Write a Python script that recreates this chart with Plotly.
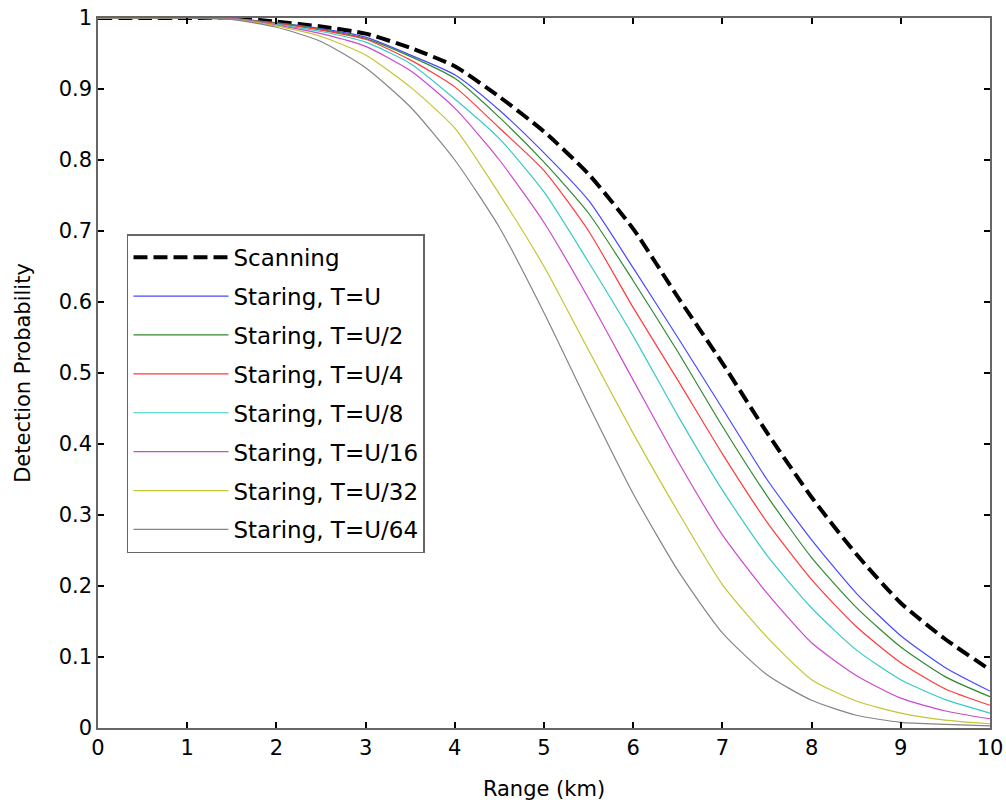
import plotly.graph_objects as go

range_km = [0, 0.5, 1, 1.5, 2, 2.5, 3, 3.5, 4, 4.5, 5, 5.5, 6, 6.5, 7, 7.5, 8, 8.5, 9, 9.5, 10]

scanning = [1.0, 1.0, 1.0, 1.0, 0.995, 0.988, 0.978, 0.958, 0.932, 0.889, 0.84, 0.78, 0.703, 0.607, 0.514, 0.416, 0.325, 0.245, 0.176, 0.125, 0.082]
staring_u = [1.0, 1.0, 1.0, 0.999, 0.993, 0.985, 0.973, 0.948, 0.92, 0.87, 0.81, 0.743, 0.648, 0.55, 0.45, 0.35, 0.265, 0.19, 0.13, 0.085, 0.052]
staring_u2 = [1.0, 1.0, 1.0, 0.999, 0.993, 0.984, 0.971, 0.946, 0.915, 0.86, 0.797, 0.725, 0.63, 0.53, 0.425, 0.327, 0.24, 0.17, 0.114, 0.072, 0.044]
staring_u4 = [1.0, 1.0, 1.0, 0.999, 0.992, 0.983, 0.97, 0.941, 0.903, 0.845, 0.785, 0.70, 0.592, 0.49, 0.386, 0.29, 0.209, 0.143, 0.092, 0.055, 0.032]
staring_u8 = [1.0, 1.0, 1.0, 0.999, 0.991, 0.981, 0.966, 0.936, 0.886, 0.83, 0.755, 0.656, 0.552, 0.44, 0.335, 0.243, 0.169, 0.11, 0.068, 0.04, 0.021]
staring_u16 = [1.0, 1.0, 1.0, 0.999, 0.99, 0.978, 0.96, 0.926, 0.873, 0.8, 0.712, 0.605, 0.49, 0.376, 0.272, 0.19, 0.12, 0.074, 0.042, 0.024, 0.013]
staring_u32 = [1.0, 1.0, 1.0, 0.998, 0.989, 0.974, 0.948, 0.903, 0.845, 0.752, 0.65, 0.532, 0.415, 0.305, 0.202, 0.128, 0.068, 0.038, 0.021, 0.011, 0.006]
staring_u64 = [1.0, 1.0, 1.0, 0.998, 0.987, 0.967, 0.93, 0.875, 0.8, 0.705, 0.585, 0.455, 0.33, 0.222, 0.134, 0.075, 0.039, 0.018, 0.008, 0.005, 0.003]

series_names = ["Scanning", "Staring, T=U", "Staring, T=U/2", "Staring, T=U/4", "Staring, T=U/8",
                "Staring, T=U/16", "Staring, T=U/32", "Staring, T=U/64"]
series_values = [scanning, staring_u, staring_u2, staring_u4, staring_u8, staring_u16, staring_u32, staring_u64]
series_colors = ["#000000", "#4848ff", "#2f8a2f", "#ff3a3a", "#38c8c8", "#cc48cc", "#c4c434", "#858585"]

x_ticks = list(range(0, 11))
y_ticks = [0, 0.1, 0.2, 0.3, 0.4, 0.5, 0.6, 0.7, 0.8, 0.9, 1]
y_ticklabels = ["0", "0.1", "0.2", "0.3", "0.4", "0.5", "0.6", "0.7", "0.8", "0.9", "1"]

fig = go.Figure()
for i, (name, vals, col) in enumerate(zip(series_names, series_values, series_colors)):
    if i == 0:
        line = dict(color=col, width=4, dash="14px,6px", shape="spline", smoothing=0.6)
    else:
        line = dict(color=col, width=1.2, shape="spline", smoothing=0.6)
    fig.add_trace(go.Scatter(x=range_km, y=vals, mode="lines", name=name, line=line,
                             legendgroup=f"g{i}"))

font_family = "DejaVu Sans, Arial, sans-serif"
axis_common = dict(
    showline=True, linecolor="#666666", linewidth=1.5, mirror="ticks",
    ticks="inside", ticklen=6, tickwidth=2, tickcolor="#000000",
    showgrid=False, zeroline=False, automargin=False,
    tickfont=dict(family=font_family, size=21, color="#000000"),
)

fig.update_layout(
    width=1006, height=804,
    margin=dict(l=98, r=16, t=18, b=76),
    paper_bgcolor="white", plot_bgcolor="white",
    font=dict(family=font_family, color="#000000"),
    xaxis=dict(range=[0, 10], tickvals=x_ticks,
               title=dict(text="Range (km)", font=dict(family=font_family, size=21), standoff=22),
               **axis_common),
    yaxis=dict(range=[0, 1], tickvals=y_ticks, ticktext=y_ticklabels,
               title=dict(text="Detection Probability", font=dict(family=font_family, size=21), standoff=22),
               **axis_common),
    legend=dict(x=0.0325, y=0.6955, xanchor="left", yanchor="top",
                bgcolor="white", bordercolor="#666666", borderwidth=1.5,
                font=dict(family=font_family, size=23, color="#000000"),
                tracegroupgap=6, traceorder="grouped", itemwidth=95),
    showlegend=True,
)

fig.write_html("out.html")
